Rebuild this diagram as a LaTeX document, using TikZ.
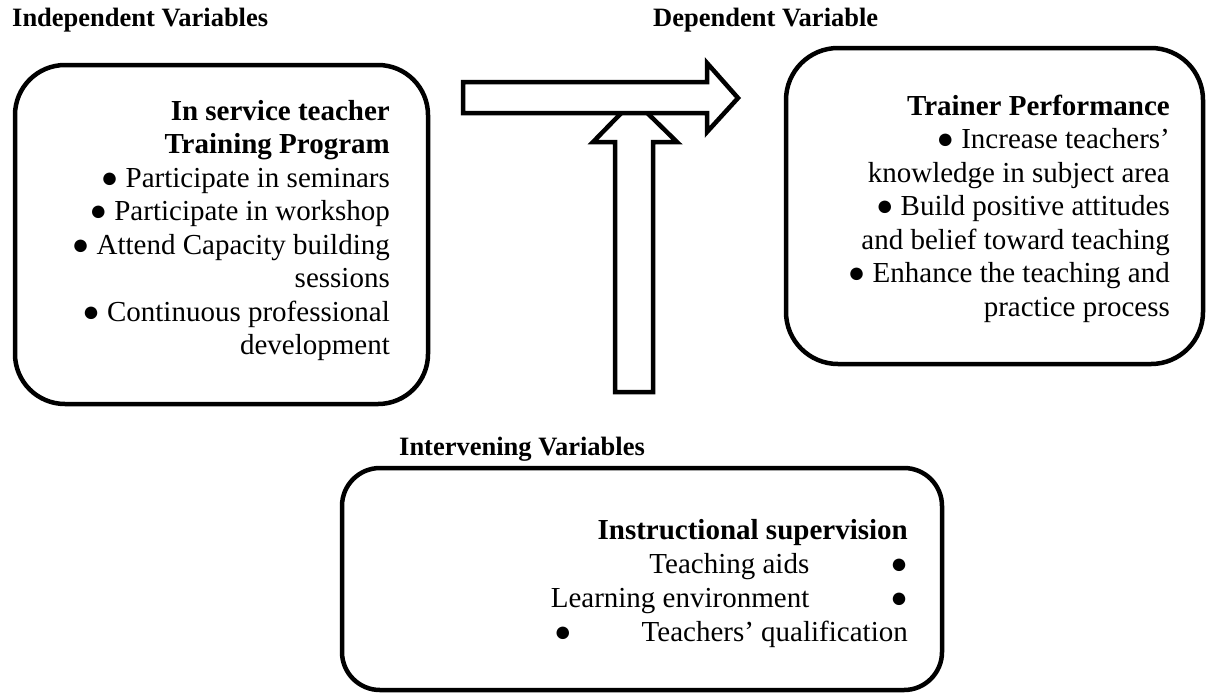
\documentclass[tikz,border=0pt]{standalone}
\usepackage{fontspec}
\setmainfont{Liberation Serif}
\newcommand\bodyfnt{\fontsize{29}{33.5}\selectfont}
\newcommand\headfnt{\fontsize{26.5}{30}\selectfont\bfseries}
\newcommand\blt{●}
\begin{document}
\begin{tikzpicture}[x=1pt,y=-1pt,
  box/.style={draw=black,line width=4.5pt,fill=none,inner sep=0pt},
  blockarrow/.style={draw=black,line width=4.5pt,line join=miter,fill=white},
  head/.style={font=\headfnt,inner sep=0pt,anchor=base west},
  body/.style={font=\bodyfnt,inner sep=0pt,anchor=base east}]
\useasboundingbox (0,0) rectangle (1206,694);
% headers
\node[head] (hind) at (12,26) {Independent Variables};
\node[head] (hdep) at (653,26) {Dependent Variable};
\node[head] (hint) at (399,455) {Intervening Variables};
% boxes
\node[box,rounded corners=50pt,minimum width=413pt,minimum height=339pt] (bind) at (221.5,234.5) {};
\node[box,rounded corners=52pt,minimum width=417pt,minimum height=316pt] (bdep) at (994.5,206) {};
\node[box,rounded corners=38pt,minimum width=600pt,minimum height=222pt] (bint) at (642,579) {};
% arrows
\draw[blockarrow] (615,392) -- (615,142) -- (593,142) -- (634,100) -- (677,142) -- (653,142) -- (653,392) -- cycle;
\draw[blockarrow] (463,82) -- (707,82) -- (707,63) -- (738,98) -- (707,132) -- (707,113) -- (463,113) -- cycle;
% texts
\node[body] (tind) at (390,120) {\begin{tabular}[t]{@{}r@{}}
\textbf{In service teacher}\\
\textbf{Training Program}\\
\blt{} Participate in seminars\\
\blt{} Participate in workshop\\
\blt{} Attend Capacity building\\
sessions\\
\blt{} Continuous professional\\
development\end{tabular}};
\node[body] (tdep) at (1170,115) {\begin{tabular}[t]{@{}r@{}}
\textbf{Trainer Performance}\\
\blt{} Increase teachers’\\
knowledge in subject area\\
\blt{} Build positive attitudes\\
and belief toward teaching\\
\blt{} Enhance the teaching and\\
practice process\end{tabular}};
\node[body] (tint) at (908,539) {\fontsize{29}{34}\selectfont\begin{tabular}[t]{@{}r@{}}
\textbf{Instructional supervision}\\
Teaching aids\hspace{81pt}\blt\hspace{-3pt}\\
Learning environment\hspace{81pt}\blt\hspace{-3pt}\\
\blt\hspace{70pt}Teachers’ qualification\end{tabular}};
\end{tikzpicture}
\end{document}
